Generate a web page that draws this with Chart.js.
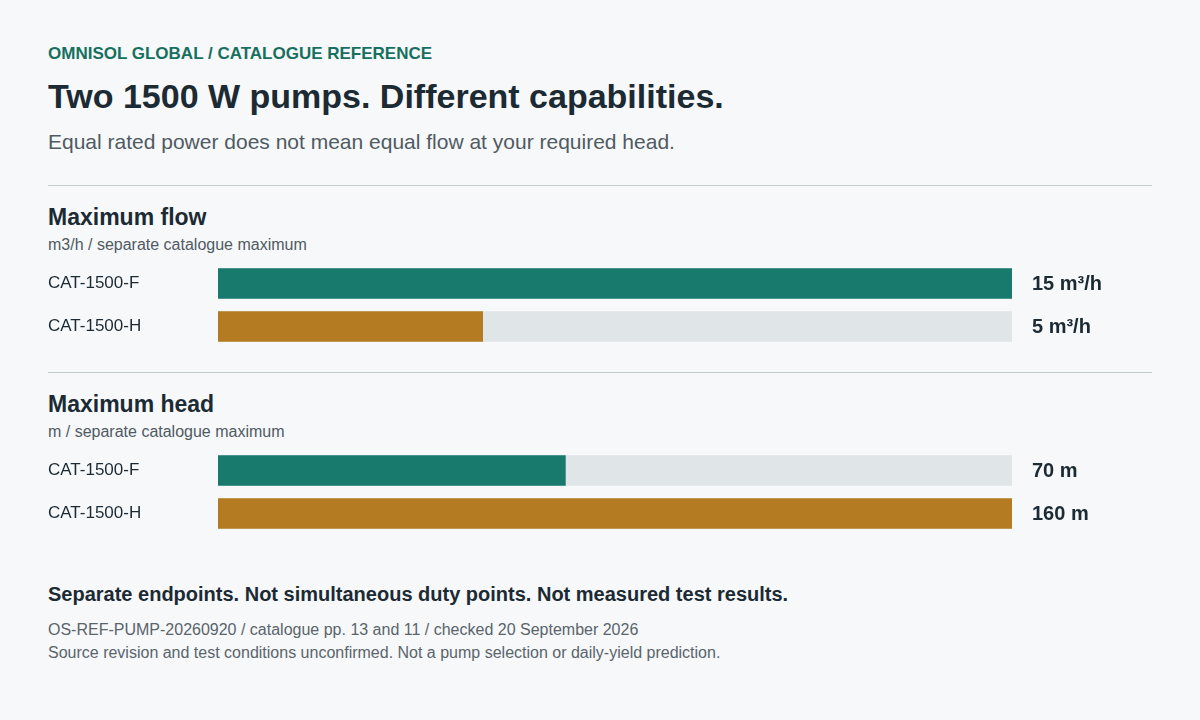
<!DOCTYPE html>
<html>
<head>
<meta charset="utf-8">
<script src="https://cdn.jsdelivr.net/npm/chart.js@4"></script>
<style>
  html, body { margin: 0; padding: 0; }
  body {
    width: 1200px; height: 720px; position: relative; overflow: hidden;
    background: #f6f8fa; font-family: "Liberation Sans", Arial, sans-serif; color: #1c2a33;
  }
  .t { position: absolute; left: 48px; line-height: 1; white-space: nowrap; }
  .eyebrow { top: 44.5px; font-size: 17px; font-weight: bold; color: #17705f; }
  .title { top: 79px; font-size: 34px; font-weight: bold; }
  .sub { top: 130.5px; font-size: 21px; color: #505a62; }
  .rule { position: absolute; left: 48px; width: 1104px; height: 1px; background: #c2ccc9; }
  .sec { font-size: 23px; font-weight: bold; }
  .secsub { font-size: 16px; color: #505a62; }
  .chartbox { position: absolute; left: 48px; width: 1104px; height: 86px; }
  .note { top: 584px; font-size: 20px; font-weight: bold; }
  .foot { font-size: 16px; color: #5a646b; }
</style>
</head>
<body>
  <div class="t eyebrow">OMNISOL GLOBAL / CATALOGUE REFERENCE</div>
  <div class="t title">Two 1500 W pumps. Different capabilities.</div>
  <div class="t sub">Equal rated power does not mean equal flow at your required head.</div>

  <div class="rule" style="top:185px"></div>
  <div class="t sec" style="top:205.5px">Maximum flow</div>
  <div class="t secsub" style="top:236.5px">m3/h / separate catalogue maximum</div>
  <div class="chartbox" style="top:262px"><canvas id="flowChart"></canvas></div>

  <div class="rule" style="top:372px"></div>
  <div class="t sec" style="top:392.5px">Maximum head</div>
  <div class="t secsub" style="top:423.5px">m / separate catalogue maximum</div>
  <div class="chartbox" style="top:449px"><canvas id="headChart"></canvas></div>

  <div class="t note">Separate endpoints. Not simultaneous duty points. Not measured test results.</div>
  <div class="t foot" style="top:621.5px">OS-REF-PUMP-20260920 / catalogue pp. 13 and 11 / checked 20 September 2026</div>
  <div class="t foot" style="top:645px">Source revision and test conditions unconfirmed. Not a pump selection or daily-yield prediction.</div>

<script>
const pumps = ['CAT-1500-F', 'CAT-1500-H'];
const flowValues = [15, 5];
const flowUnit = 'm³/h';
const headValues = [70, 160];
const headUnit = 'm';

const pumpColors = ['#177a6c', '#b57b22'];
const trackColor = '#e0e5e7';
const textColor = '#1c2a33';

const valueLabels = {
  id: 'valueLabels',
  afterDatasetsDraw(chart, args, opts) {
    let ctx = chart.ctx;
    let meta = chart.getDatasetMeta(0);
    ctx.save();
    ctx.font = 'bold 20px "Liberation Sans", Arial, sans-serif';
    ctx.fillStyle = textColor;
    ctx.textAlign = 'left';
    ctx.textBaseline = 'middle';
    meta.data.forEach((bar, i) => {
      let v = chart.data.datasets[0].data[i];
      ctx.fillText(v + ' ' + opts.unit, chart.chartArea.right + 20, bar.y + 1);
    });
    ctx.restore();
  }
};

function makeChart(id, values, unit) {
  let max = Math.max(...values);
  new Chart(document.getElementById(id), {
    type: 'bar',
    data: {
      labels: pumps,
      datasets: [
        {
          data: values,
          backgroundColor: pumpColors,
          barThickness: 30,
          grouped: false,
          order: 0,
        },
        {
          data: values.map(() => max),
          backgroundColor: trackColor,
          barThickness: 30,
          grouped: false,
          order: 1,
        },
      ],
    },
    options: {
      indexAxis: 'y',
      responsive: true,
      maintainAspectRatio: false,
      animation: false,
      layout: { padding: { right: 140, left: 0, top: 0, bottom: 0 } },
      plugins: {
        legend: { display: false },
        tooltip: { enabled: false },
        valueLabels: { unit: unit },
      },
      scales: {
        x: { display: false, min: 0, max: max },
        y: {
          grid: { display: false },
          border: { display: false },
          ticks: {
            crossAlign: 'far',
            padding: 0,
            color: textColor,
            font: { family: '"Liberation Sans", Arial, sans-serif', size: 17 },
          },
          afterFit: (scale) => {
            // labels sit beside the bars, so no extra room above/below
            scale.width = 170;
            scale.paddingTop = 0;
            scale.paddingBottom = 0;
          },
        },
      },
    },
    plugins: [valueLabels],
  });
}

makeChart('flowChart', flowValues, flowUnit);
makeChart('headChart', headValues, headUnit);
</script>
</body>
</html>
